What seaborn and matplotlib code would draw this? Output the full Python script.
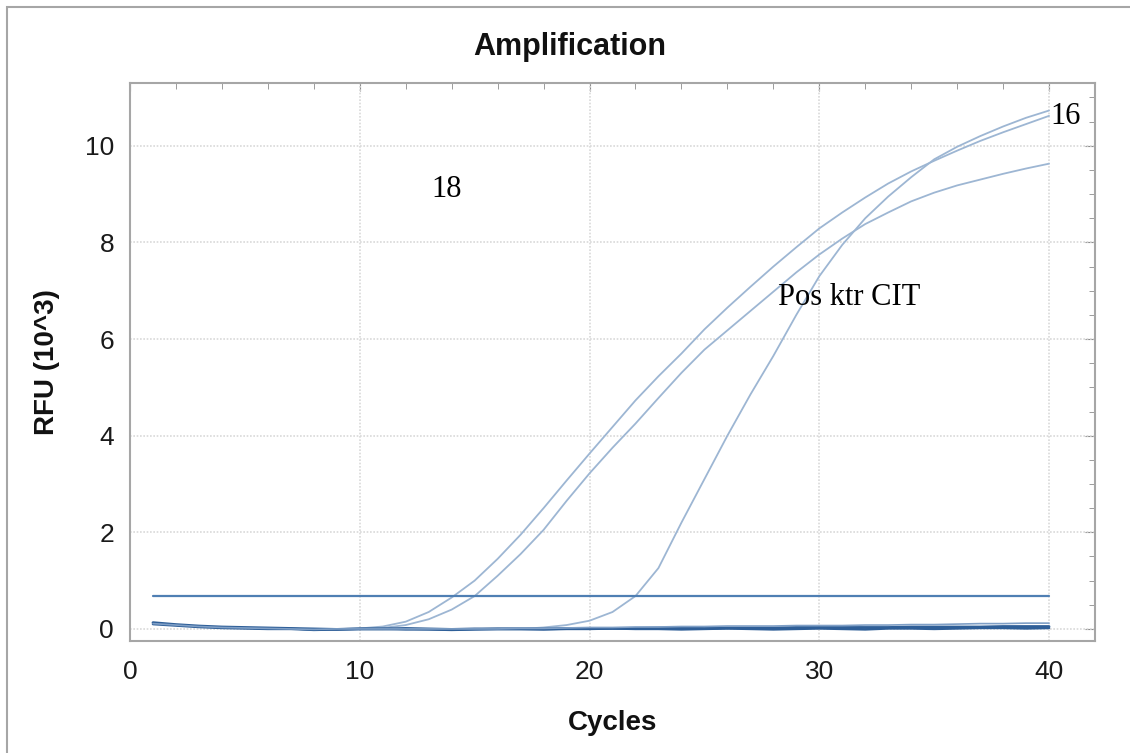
import numpy as np
import pandas as pd
import matplotlib
matplotlib.use("Agg")
import matplotlib.pyplot as plt
from matplotlib.patches import Rectangle
from matplotlib.ticker import MultipleLocator
import seaborn as sns

# ---------------- data ----------------
cycles = list(range(1, 41))

curve_18 = [0.12, 0.08, 0.05, 0.03, 0.02, 0.01, 0.00, -0.01, 0.00, 0.01,
            0.05, 0.15, 0.35, 0.65, 1.00, 1.45, 1.95, 2.50, 3.07, 3.63,
            4.18, 4.73, 5.23, 5.70, 6.20, 6.65, 7.08, 7.50, 7.90, 8.29,
            8.62, 8.93, 9.22, 9.47, 9.69, 9.90, 10.10, 10.28, 10.45, 10.62]

curve_b = [0.12, 0.08, 0.05, 0.03, 0.02, 0.01, 0.00, -0.01, 0.00, 0.00,
           0.02, 0.08, 0.20, 0.40, 0.68, 1.10, 1.55, 2.05, 2.65, 3.22,
           3.75, 4.25, 4.78, 5.30, 5.78, 6.18, 6.58, 6.98, 7.38, 7.75,
           8.08, 8.38, 8.62, 8.85, 9.03, 9.18, 9.30, 9.42, 9.53, 9.63]

curve_pos = [0.12, 0.08, 0.05, 0.03, 0.02, 0.01, 0.00, -0.01, 0.00, 0.00,
             0.00, 0.00, 0.00, 0.00, 0.00, 0.00, 0.00, 0.03, 0.08, 0.17,
             0.35, 0.68, 1.26, 2.20, 3.10, 4.00, 4.85, 5.65, 6.50, 7.30,
             7.95, 8.50, 8.95, 9.35, 9.72, 9.98, 10.20, 10.40, 10.58, 10.73]

neg_1 = [0.13, 0.09, 0.06, 0.04, 0.03, 0.02, 0.01, 0.00, -0.01, 0.00,
         0.00, 0.01, 0.00, -0.01, 0.00, 0.00, 0.00, 0.00, 0.01, 0.01,
         0.01, 0.01, 0.02, 0.02, 0.01, 0.02, 0.02, 0.02, 0.03, 0.03,
         0.03, 0.03, 0.03, 0.04, 0.04, 0.04, 0.04, 0.05, 0.05, 0.05]

neg_2 = [0.10, 0.07, 0.04, 0.02, 0.01, 0.00, 0.00, -0.02, -0.01, 0.00,
         0.00, -0.01, -0.01, -0.02, -0.01, 0.00, 0.00, -0.01, 0.00, 0.00,
         0.01, 0.00, 0.00, -0.01, 0.00, 0.01, 0.00, -0.01, 0.00, 0.01,
         0.00, -0.01, 0.01, 0.01, 0.00, 0.01, 0.02, 0.02, 0.01, 0.02]

neg_3 = [0.11, 0.08, 0.05, 0.03, 0.02, 0.01, 0.00, -0.01, 0.00, 0.00,
         0.00, 0.00, 0.00, 0.00, 0.00, 0.00, 0.01, 0.01, 0.02, 0.03,
         0.03, 0.04, 0.04, 0.05, 0.05, 0.06, 0.06, 0.06, 0.07, 0.07,
         0.07, 0.08, 0.08, 0.09, 0.09, 0.10, 0.11, 0.11, 0.12, 0.12]

threshold = 0.68

wells = {"18": curve_18, "B": curve_b, "Pos ktr CIT": curve_pos,
         "N1": neg_1, "N2": neg_2, "N3": neg_3}

x_ticks = [0, 10, 20, 30, 40]
y_ticks = [0, 2, 4, 6, 8, 10]

title = "Amplification"
xlabel = "Cycles"
ylabel = "RFU (10^3)"

labels = [("18", 13.8, 9.1), ("16", 40.7, 10.6), ("Pos ktr CIT", 31.3, 6.85)]

# ---------------- frame ----------------
rows = []
for name, vals in wells.items():
    for c, v in zip(cycles, vals):
        rows.append({"Cycle": c, "RFU": v, "Well": name})
df = pd.DataFrame(rows)

sns.set_style("white")
plt.rcParams["font.family"] = ["Liberation Sans", "DejaVu Sans"]
plt.rcParams["text.color"] = "#111111"
plt.rcParams["axes.labelcolor"] = "#111111"

fig = plt.figure(figsize=(11.3, 7.53), dpi=100)
ax = fig.add_axes([130 / 1130, 1 - 641 / 753, (1095 - 130) / 1130, (641 - 83) / 753])

amp_col = "#9db6d3"
neg_col = "#2f5f98"
palette = {"18": amp_col, "B": amp_col, "Pos ktr CIT": amp_col,
           "N1": neg_col, "N2": neg_col, "N3": "#7f9fc6"}
widths = {"18": 1.3, "B": 1.3, "Pos ktr CIT": 1.3, "N1": 2.0, "N2": 1.8, "N3": 1.2}

for name in wells:
    sub = df[df["Well"] == name]
    sns.lineplot(data=sub, x="Cycle", y="RFU", ax=ax, color=palette[name],
                 linewidth=widths[name], legend=False)

ax.plot([cycles[0], cycles[-1]], [threshold, threshold], color="#4f7fb3", lw=1.6)

ax.set_xlim(0, 42)
ax.set_ylim(-0.25, 11.3)
ax.set_xticks(x_ticks)
ax.set_yticks(y_ticks)
ax.xaxis.set_minor_locator(MultipleLocator(2))
ax.yaxis.set_minor_locator(MultipleLocator(0.5))

ax.grid(True, which="major", linestyle=(0, (1, 1)), color="#d9d9d9", linewidth=1.2)
for s in ax.spines.values():
    s.set_color("#a6a6a6")
    s.set_linewidth(1.5)

ax.tick_params(axis="both", which="major", direction="inout", length=11, width=1.4,
               color="#8c8c8c", labelsize=19, labelcolor="#1a1a1a", pad=4)
ax.tick_params(axis="both", which="minor", direction="inout", length=7, width=1.1,
               color="#8c8c8c")
ax.tick_params(axis="x", which="major", pad=8)
ax.tick_params(axis="y", which="major", pad=6)

# top / right inward ticks
top = ax.secondary_xaxis("top")
top.set_xticks(x_ticks)
top.xaxis.set_minor_locator(MultipleLocator(2))
top.tick_params(which="major", direction="in", length=6, color="#8c8c8c", labeltop=False)
top.tick_params(which="minor", direction="in", length=4, color="#8c8c8c")
top.spines["top"].set_visible(False)
right = ax.secondary_yaxis("right")
right.set_yticks(y_ticks)
right.yaxis.set_minor_locator(MultipleLocator(0.5))
right.tick_params(which="major", direction="in", length=7, color="#8c8c8c", labelright=False)
right.tick_params(which="minor", direction="in", length=4, color="#8c8c8c")
right.spines["right"].set_visible(False)

ax.set_xlabel(xlabel, fontsize=20, fontweight="bold", labelpad=19, color="#111111")
ax.set_ylabel(ylabel, fontsize=20, fontweight="bold", labelpad=18, color="#111111")
fig.text(570 / 1130, 1 - 47 / 753, title, fontsize=22, fontweight="bold",
         ha="center", va="center", color="#111111")

for txt, x, y in labels:
    ax.text(x, y, txt, fontsize=22, family=["Liberation Serif", "DejaVu Serif"],
            ha="center", va="center", color="black")

fig.patches.append(Rectangle((7 / 1130, -0.1), 1.2, 1.1 - 7 / 753,
                             transform=fig.transFigure, fill=False,
                             edgecolor="#a6a6a6", linewidth=1.5))

fig.savefig("out.png", dpi=100)
